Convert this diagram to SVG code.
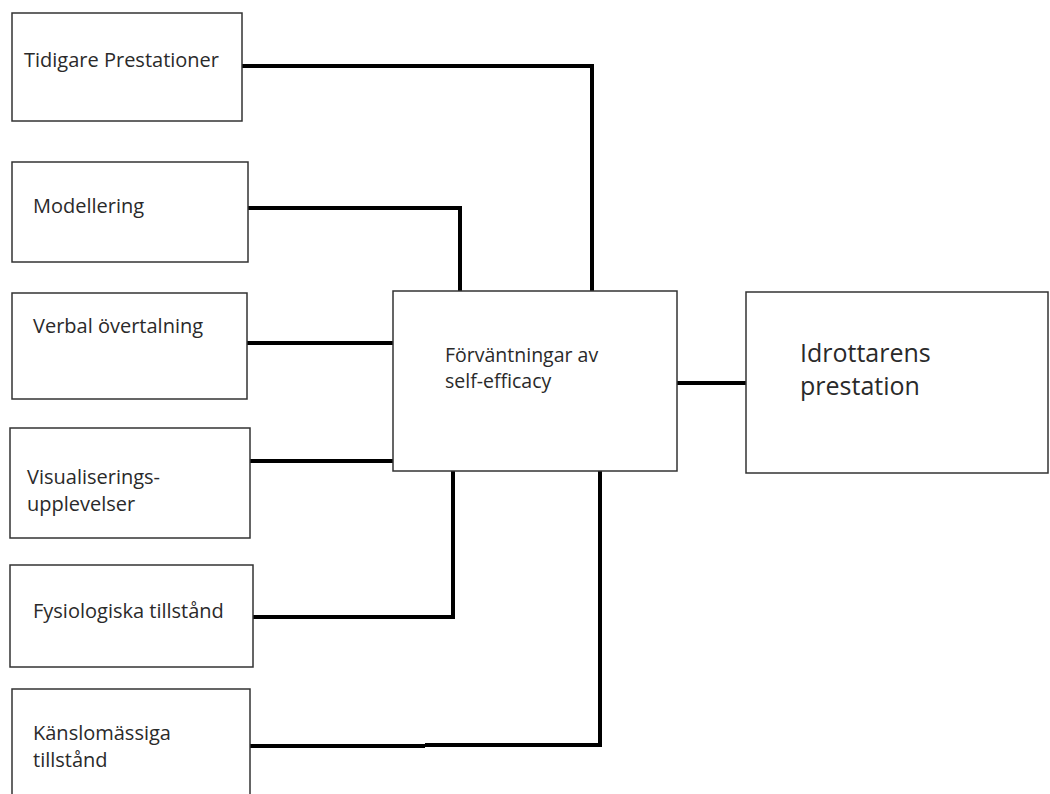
<svg xmlns="http://www.w3.org/2000/svg" width="1050" height="794" viewBox="0 0 1050 794">
<style>
.box{fill:#fff;stroke:#333;stroke-width:1.5}
.lbl{font-family:"Open Sans",sans-serif;font-size:20px;fill:#2a2a2a}
.mid{font-family:"Open Sans",sans-serif;font-size:19.5px;fill:#2a2a2a}
.big{font-family:"Open Sans",sans-serif;font-size:25px;fill:#2a2a2a}
.con{fill:none;stroke:#000;stroke-width:4;stroke-linecap:butt;stroke-linejoin:miter}
</style>
<rect width="1050" height="794" fill="#fff"/>
<g id="connectors">
<polyline class="con" points="242,66 592,66 592,295"/>
<polyline class="con" points="248,208 460,208 460,293"/>
<polyline class="con" points="247,343 393,343"/>
<polyline class="con" points="250,461 397,461"/>
<polyline class="con" points="253,617 453,617 453,471"/>
<polyline class="con" points="250,746 425,746"/>
<polyline class="con" points="425,745 600,745 600,471"/>
<polyline class="con" points="677,383 746,383"/>
</g>
<g id="n1"><rect class="box" x="12" y="13" width="230" height="108"/><text class="lbl" x="24" y="67">Tidigare Prestationer</text></g>
<g id="n2"><rect class="box" x="12" y="162" width="236" height="100"/><text class="lbl" x="33" y="213">Modellering</text></g>
<g id="n3"><rect class="box" x="12" y="293" width="235" height="106"/><text class="lbl" x="33" y="333">Verbal övertalning</text></g>
<g id="n4"><rect class="box" x="10" y="428" width="240" height="110"/><text class="lbl" x="27" y="484">Visualiserings-</text><text class="lbl" x="27" y="511">upplevelser</text></g>
<g id="n5"><rect class="box" x="10" y="565" width="243" height="102"/><text class="lbl" x="33" y="618">Fysiologiska tillstånd</text></g>
<g id="n6"><rect class="box" x="12" y="689" width="238" height="110"/><text class="lbl" x="33" y="740">Känslomässiga</text><text class="lbl" x="33" y="767">tillstånd</text></g>
<g id="center"><rect class="box" x="393" y="291" width="284" height="180"/><text class="mid" x="445" y="362">Förväntningar av</text><text class="mid" x="445" y="388">self-efficacy</text></g>
<g id="result"><rect class="box" x="746" y="292" width="302" height="181"/><text class="big" x="800" y="362">Idrottarens</text><text class="big" x="800" y="395">prestation</text></g>
</svg>
